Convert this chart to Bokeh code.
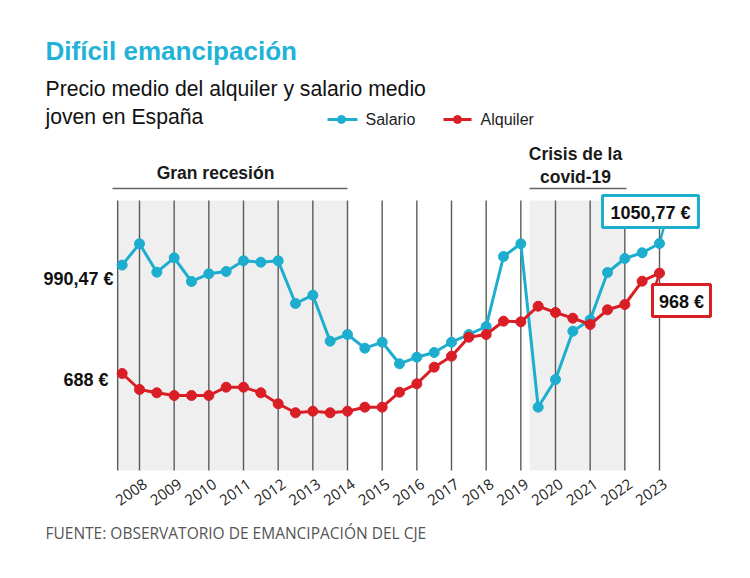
import numpy as np
from bokeh.plotting import figure
from bokeh.models import Range1d, BoxAnnotation
from bokeh.core.properties import value
from bokeh.embed import file_html
from bokeh.resources import INLINE

# ---------------- data ----------------
periodo = [2007.5, 2008.0, 2008.5, 2009.0, 2009.5, 2010.0, 2010.5, 2011.0,
           2011.5, 2012.0, 2012.5, 2013.0, 2013.5, 2014.0, 2014.5, 2015.0,
           2015.5, 2016.0, 2016.5, 2017.0, 2017.5, 2018.0, 2018.5, 2019.0,
           2019.5, 2020.0, 2020.5, 2021.0, 2021.5, 2022.0, 2022.5, 2023.0]
salario = [990.47, 1050.0, 970.6, 1010.8, 944.7, 966.2, 972.6, 1002.4,
           998.5, 1002.4, 883.3, 906.5, 778.2, 796.8, 758.6, 775.3,
           715.1, 733.5, 746.6, 775.3, 796.8, 819.1, 1014.4, 1049.9,
           594.0, 671.3, 806.0, 837.8, 969.8, 1008.9, 1024.8, 1050.77]
alquiler = [688.0, 643.4, 634.2, 626.6, 626.6, 626.6, 649.8, 649.8,
            634.2, 603.5, 578.4, 582.8, 578.4, 582.8, 594.0, 594.0,
            635.8, 659.3, 705.6, 736.3, 789.3, 796.8, 833.9, 832.2,
            875.8, 858.2, 842.3, 824.7, 865.7, 880.5, 945.5, 968.0]
anios = [2008, 2009, 2010, 2011, 2012, 2013, 2014, 2015,
         2016, 2017, 2018, 2019, 2020, 2021, 2022, 2023]
anio_labels = [str(a) for a in anios]
recesion = (2007.37, 2014.0)
covid = (2019.25, 2022.0)

AZUL = "#1dadce"
ROJO = "#d91e26"
TITULO = "#22b2d8"

# pixel (page) -> data helpers for positioning text
PX_YEAR = 34.667
EUR_PX = 2.79
def dx(X):
    return 2008 + (X - 139) / PX_YEAR
def dy(Y):
    return 688 + (373 - Y) * EUR_PX

def fmt(v):
    s = f"{v:.2f}".rstrip("0").rstrip(".")
    return s.replace(".", ",") + " €"

W, H = 734, 562
p = figure(width=W, height=H, output_backend="svg", toolbar_location=None,
           x_axis_type=None, y_axis_type=None, min_border=0,
           x_range=Range1d(dx(0), dx(W)), y_range=Range1d(dy(H), dy(0)))
p.outline_line_color = None
p.background_fill_color = "white"
p.border_fill_color = "white"

top, bottom = dy(200), dy(470)

# shaded periods
for a, b in (recesion, covid):
    p.add_layout(BoxAnnotation(left=a, right=b, bottom=bottom, top=top,
                               fill_color="#efefef", fill_alpha=1,
                               line_color=None, level="underlay"))

# vertical year lines
xs = [recesion[0]] + anios
p.segment(x0=xs, y0=[bottom] * len(xs), x1=xs, y1=[top] * len(xs),
          line_color="#5a5a5a", line_width=1.4)

# brackets
p.segment(x0=[dx(112), covid[0]], y0=[dy(188)] * 2, x1=[recesion[1], dx(626)],
          y1=[dy(188)] * 2, line_color="#666666", line_width=1.5)

# connectors to annotation boxes
p.segment(x0=[periodo[-1]], y0=[salario[-1]], x1=[dx(663)], y1=[dy(228)],
          line_color=AZUL, line_width=2.5)
p.segment(x0=[periodo[-1]], y0=[alquiler[-1]], x1=[dx(655)], y1=[dy(285)],
          line_color=ROJO, line_width=2.5)

# series
p.line(periodo, salario, line_color=AZUL, line_width=3)
p.scatter(periodo, salario, size=10, fill_color=AZUL, line_color=AZUL)
p.line(periodo, alquiler, line_color=ROJO, line_width=3)
p.scatter(periodo, alquiler, size=10, fill_color=ROJO, line_color=ROJO)

FONT = value("Liberation Sans")

# annotation boxes
p.rect(x=[dx(650)], y=[dy(211)], width=96, height=32, width_units="screen",
       height_units="screen", fill_color="white", line_color=AZUL, line_width=3)
p.rect(x=[dx(681)], y=[dy(300)], width=58, height=32, width_units="screen",
       height_units="screen", fill_color="white", line_color=ROJO, line_width=3)
p.text(x=[dx(650), dx(681)], y=[dy(212), dy(301)],
       text=[fmt(salario[-1]), fmt(alquiler[-1])],
       text_font=FONT, text_font_style="bold", text_font_size="18px",
       text_color="#111111", text_align="center", text_baseline="middle")

# y value labels (first values)
p.text(x=[dx(113), dx(108)], y=[dy(278), dy(379)],
       text=[fmt(salario[0]), fmt(alquiler[0])],
       text_font=FONT, text_font_style="bold", text_font_size="18px",
       text_color="#111111", text_align="right", text_baseline="middle")

# year tick labels
p.text(x=anios, y=[dy(482)] * len(anios), text=anio_labels, x_offset=6,
       angle=np.radians(35), text_font=value("Open Sans"),
       text_font_size="15px", text_color="#222222",
       text_align="right", text_baseline="middle")

# period labels
p.text(x=[dx(215), dx(575), dx(575)], y=[dy(172), dy(153), dy(176)],
       text=["Gran recesión", "Crisis de la", "covid-19"],
       text_font=FONT, text_font_size="17.5px", text_font_style="bold",
       text_color="#1a1a1a", text_align="center", text_baseline="middle")

# titles
p.text(x=[dx(45)], y=[dy(50)], text=["Difícil emancipación"], text_font=FONT,
       text_font_style="bold", text_font_size="26px", text_color=TITULO,
       text_align="left", text_baseline="middle")
p.text(x=[dx(45), dx(45)], y=[dy(88), dy(116)],
       text=["Precio medio del alquiler y salario medio", "joven en España"],
       text_font=FONT, text_font_size="21.2px", text_color="#111111",
       text_align="left", text_baseline="middle")

# legend
p.segment(x0=[dx(327), dx(443)], y0=[dy(119)] * 2, x1=[dx(357), dx(471)],
          y1=[dy(119)] * 2, line_color=[AZUL, ROJO], line_width=3)
p.scatter([dx(341), dx(457)], [dy(119)] * 2, size=8, fill_color=[AZUL, ROJO],
          line_color=[AZUL, ROJO])
p.text(x=[dx(365), dx(480)], y=[dy(119)] * 2, text=["Salario", "Alquiler"],
       text_font=FONT, text_font_size="16px", text_color="#222222",
       text_align="left", text_baseline="middle")

# source
p.text(x=[dx(45)], y=[dy(532)],
       text=["FUENTE: OBSERVATORIO DE EMANCIPACIÓN DEL CJE"],
       text_font=value("Open Sans"), text_font_size="15.5px",
       text_color="#555555", text_align="left", text_baseline="middle")

open("out.html", "w").write(file_html(p, INLINE))
